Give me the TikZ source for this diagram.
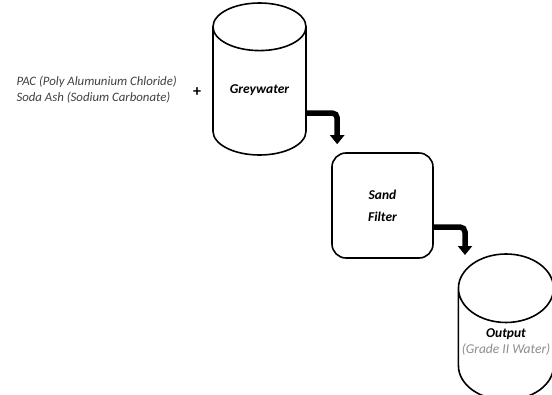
\documentclass[tikz,border=0pt]{standalone}
\usepackage{fontspec}
\setmainfont{Carlito}
\usepackage{tikz}
\usetikzlibrary{shapes.geometric,arrows.meta}

\newcommand{\tanklabel}[2]{\raisebox{#1}[\height][\depth]{\begin{tabular}{@{}c@{}}#2\end{tabular}}}
\tikzset{
  tank/.style={draw, line width=1.6pt, cylinder, shape border rotate=90,
    aspect=0.72, align=center, anchor=shape center,
    font=\bfseries\itshape\fontsize{13.5}{16}\selectfont},
  flowarrow/.style={line width=5.5pt, -{Triangle[width=14pt,length=9pt]}, rounded corners=5pt}
}

\begin{document}
\begin{tikzpicture}[x=1pt, y=-1pt]
      \useasboundingbox (0,0) rectangle (552,394);
      % chemicals and plus sign
      \node[anchor=west, align=left, text=black!75, font=\itshape\fontsize{12.8}{16}\selectfont]
        (chem) at (13,90) {PAC (Poly Alumunium Chloride)\\Soda Ash (Sodium Carbonate)};
      \node[font=\bfseries\fontsize{16}{16}\selectfont] (plus) at (197,92) {+};
      % tanks and filter
      \node[tank, minimum width=93pt, minimum height=152pt] (grey) at (259.5,79)
        {\tanklabel{5pt}{Greywater}};
      \node[draw, line width=1.6pt, rounded corners=14pt, minimum width=101pt, minimum height=105pt,
        align=center, font=\bfseries\itshape\fontsize{13.5}{22}\selectfont] (sand) at (382.5,205.5) {Sand\\Filter};
      \node[tank, minimum width=88pt, minimum height=146pt] (out) at (506,327)
        {\tanklabel{9pt}{Output\\{\mdseries\color{black!45}(Grade II Water)}}};
      % arrows
      \draw[flowarrow] (grey.east |- 0,113) -| ([xshift=6pt, yshift=8pt]sand.north west);
      \draw[flowarrow] (sand.east |- 0,227) -| ([xshift=-41pt, yshift=72pt]out.shape center);
    \end{tikzpicture}
\end{document}
